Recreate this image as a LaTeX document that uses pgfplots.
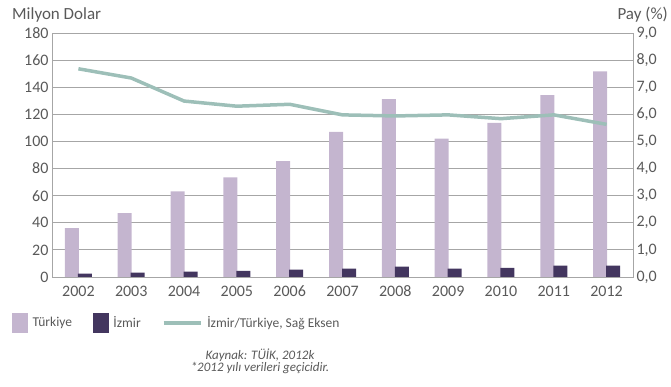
\documentclass[border=0pt]{standalone}
\usepackage{pgfplots}
\pgfplotsset{compat=1.18}
\usepackage{fontspec}
\setmainfont{Carlito}
\definecolor{turk}{HTML}{C4B5CF}
\definecolor{izm}{HTML}{43365F}
\definecolor{ratio}{HTML}{9DBFB8}
\definecolor{txt}{HTML}{595959}
\definecolor{gridc}{HTML}{A6A6A6}
\begin{document}
\begin{tikzpicture}[x=1pt,y=1pt]
\useasboundingbox (0,0) rectangle (671,387);
\begin{axis}[at={(52pt,110pt)}, anchor=south west, scale only axis,
  width=581pt, height=244pt,
  xmin=-0.5, xmax=10.5, ymin=0, ymax=180,
  ytick={0,20,...,180},
  xtick={0,...,10},
  xticklabels={2002,2003,2004,2005,2006,2007,2008,2009,2010,2011,2012},
  ymajorgrids, grid style={gridc, line width=0.8pt},
  axis line style={gridc, line width=0.8pt},
  ytick pos=left, major tick length=5pt,
  tick style={gridc, line width=0.8pt}, xtick style={draw=none},
  tick label style={font=\fontsize{16}{18}\selectfont, text=txt},
  xticklabel style={yshift=-4pt, text height=11.5pt, text depth=0pt},
  /pgf/number format/assume math mode=true,
  ]
\addplot[ybar, bar width=14pt, bar shift=-6.5pt, fill=turk, draw=none] coordinates {
 (0,36.1) (1,47.1) (2,63.2) (3,73.4) (4,85.4) (5,107.1) (6,131.2) (7,102.0) (8,113.7) (9,134.1) (10,151.7)};
\addplot[ybar, bar width=14pt, bar shift=6.5pt, fill=izm, draw=none] coordinates {
 (0,2.4) (1,3.2) (2,3.9) (3,4.6) (4,5.4) (5,6.1) (6,7.6) (7,6.1) (8,6.8) (9,8.3) (10,8.3)};
\end{axis}
\begin{axis}[at={(52pt,110pt)}, anchor=south west, scale only axis,
  width=581pt, height=244pt,
  xmin=-0.5, xmax=10.5, ymin=0, ymax=9,
  axis x line=none, axis y line*=right,
  y axis line style={gridc, line width=0.8pt, -},
  ytick={0,1,...,9}, major tick length=5pt,
  tick style={gridc, line width=0.8pt}, ytick pos=right,
  yticklabel style={font=\fontsize{16}{18}\selectfont, text=txt,
    /pgf/number format/.cd, fixed, fixed zerofill, precision=1, use comma},
  /pgf/number format/assume math mode=true,
  legend columns=3,
  legend style={at={(-0.0688,-0.1475)}, anchor=north west, draw=none, fill=none,
    inner sep=0pt, font=\fontsize{13.5}{15}\selectfont, text=txt,
    /tikz/every odd column/.append style={column sep=3pt},
    /tikz/every even column/.append style={column sep=19pt}},
  legend cell align=left,
  ]
\addlegendimage{legend image code/.code={\fill[turk] (0pt,-9.5pt) rectangle (15pt,9.5pt);}}
\addlegendentry{Türkiye}
\addlegendimage{legend image code/.code={\fill[izm] (0pt,-9.5pt) rectangle (15pt,9.5pt);}}
\addlegendentry{İzmir}
\addplot[ratio, line width=3.5pt, mark=none,
  legend image code/.code={\draw[ratio, line width=3.5pt] (0pt,0pt) -- (37pt,0pt);}]
 coordinates {(0,7.68) (1,7.34) (2,6.49) (3,6.30) (4,6.37) (5,5.98) (6,5.94) (7,5.98) (8,5.84) (9,5.98) (10,5.63)};
\addlegendentry{İzmir/Türkiye, Sağ Eksen}
\end{axis}
\node[anchor=west, text=txt, font=\fontsize{17}{19}\selectfont, inner sep=0pt] at (12,372) {Milyon Dolar};
\node[anchor=east, text=txt, font=\fontsize{17}{19}\selectfont, inner sep=0pt] at (668,372) {Pay (\%)};
\node[text=txt, font=\itshape\fontsize{13}{15}\selectfont, inner sep=0pt] at (260,32) {Kaynak: TÜİK, 2012k};
\node[text=txt, font=\itshape\fontsize{13}{15}\selectfont, inner sep=0pt] at (260,19) {*2012 yılı verileri geçicidir.};
\end{tikzpicture}
\end{document}
